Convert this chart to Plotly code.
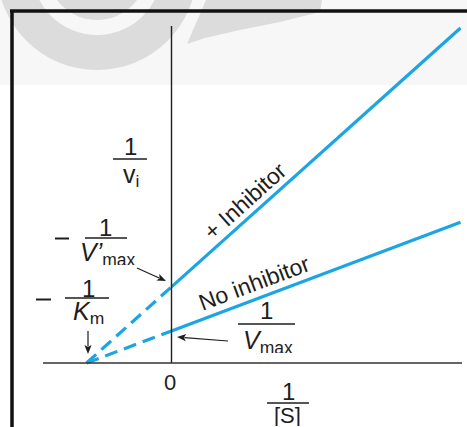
import math
import plotly.graph_objects as go

# Lineweaver-Burk plot: 1/v versus 1/[S], with and without a non-competitive inhibitor
inv_s = [-1.0, 0.0, 3.4]              # 1/[S]: x-intercept (-1/Km), origin, right end
inv_v_no_inhibitor = [0.0, 1.0, 4.4]  # 1/v without inhibitor (intercept 1/Vmax)
inv_v_inhibitor = [0.0, 2.38, 10.47]  # 1/v with inhibitor (intercept 1/V'max)

W, H = 467, 427
ORIGIN_X, ORIGIN_Y = 171.5, 363.0     # pixel position of the origin
PX_PER_X, PX_PER_Y = 85.0, 32.0

BLUE = "#1ca5e4"
INK = "#1e1e1e"
FONT = "Liberation Sans, Arial, Helvetica, sans-serif"


def P(x, y):
    """Pixel position -> paper coordinates."""
    return x / W, 1 - y / H


fig = go.Figure()

# dashed extrapolations to the x-intercept, solid measured parts to the right
for ys in (inv_v_inhibitor, inv_v_no_inhibitor):
    fig.add_trace(go.Scatter(x=inv_s[:2], y=ys[:2], mode="lines",
                             line=dict(color=BLUE, width=3.2, dash="13px,7px"),
                             hoverinfo="skip"))
    fig.add_trace(go.Scatter(x=inv_s[1:], y=ys[1:], mode="lines",
                             line=dict(color=BLUE, width=3.2),
                             hoverinfo="skip"))

shapes = []


def pline(x0, y0, x1, y1, width=1.5, color=INK):
    a, b = P(x0, y0)
    c, d = P(x1, y1)
    shapes.append(dict(type="line", xref="paper", yref="paper",
                       x0=a, y0=b, x1=c, y1=d,
                       line=dict(color=color, width=width)))


def pcircle(cx, cy, r, color):
    a, b = P(cx - r, cy - r)
    c, d = P(cx + r, cy + r)
    shapes.append(dict(type="circle", xref="paper", yref="paper", layer="below",
                       x0=a, y0=d, x1=c, y1=b, fillcolor=color,
                       line=dict(width=0)))


def ppath(points, color, layer="below"):
    s = "M " + " L ".join(f"{P(x, y)[0]:.5f},{P(x, y)[1]:.5f}" for x, y in points) + " Z"
    shapes.append(dict(type="path", xref="paper", yref="paper", layer=layer,
                       path=s, fillcolor=color, line=dict(width=0)))


def arrow(x_tail, y_tail, x_tip, y_tip, head=9.0, half=3.6):
    """Thin pointer line ending in a filled arrowhead."""
    dx, dy = x_tip - x_tail, y_tip - y_tail
    n = math.hypot(dx, dy)
    ux, uy = dx / n, dy / n
    bx, by = x_tip - ux * head, y_tip - uy * head
    pline(x_tail, y_tail, bx + ux * 1.5, by + uy * 1.5, width=1.2)
    ppath([(x_tip, y_tip),
           (bx - uy * half, by + ux * half),
           (bx + ux * 2.0, by + uy * 2.0),
           (bx + uy * half, by - ux * half)], INK, layer="above")


# faint emblem in the top band
WM = "#dcdcdc"
HAZE = "#f7f7f7"
shapes.append(dict(type="rect", xref="paper", yref="paper", layer="below",
                   x0=0, x1=1, y0=P(0, 85)[1], y1=1,
                   fillcolor=HAZE, line=dict(width=0)))
pcircle(97, -30, 100, WM)
pcircle(97, -30, 65, HAZE)
pcircle(97, -30, 50, WM)
ppath([(187, 44), (205, 38), (240, 30), (280, 22), (320, 12), (322, 0),
       (206, 0), (200, 14), (193, 30)], WM)

# page frame
pline(10, 11, W, 11, width=3.5, color="#111111")
pline(12, 10, 12, H, width=3.5, color="#111111")

# axes
shapes.append(dict(type="line", xref="x", yref="paper", x0=0, x1=0,
                   y0=P(0, 26)[1], y1=P(0, ORIGIN_Y)[1],
                   line=dict(color=INK, width=1.4)))
pline(43, ORIGIN_Y, 462, ORIGIN_Y, width=1.6, color="#333333")

# fraction bars and minus signs
pline(113, 159, 147, 159)
pline(85, 238, 127, 238)
pline(65, 298, 109, 298)
pline(238, 324, 295, 324)
pline(267, 403, 309, 403)
pline(55, 238.5, 69, 238.5, width=2.0)
pline(36, 299.5, 51, 299.5, width=2.0)

# pointers to the intercepts
arrow(137, 268, 166, 281)
arrow(88, 331, 88, 354)
arrow(228, 341, 177, 337)

annotations = []


def label(x, y, text, size=24, angle=0, box=None):
    a, b = P(x, y)
    ann = dict(xref="paper", yref="paper", x=a, y=b, text=text,
               showarrow=False, xanchor="center", yanchor="middle",
               textangle=angle, valign="middle",
               font=dict(family=FONT, size=size, color=INK))
    if box:
        ann["height"] = box
    annotations.append(ann)


# y-axis title 1/v_i
label(130, 146, "1", box=20)
label(131, 176, "v<sub>i</sub>", size=25, box=22)

# -1/V'max
label(105, 227, "1", box=20)
label(108, 254, "<i>V’</i><sub>max</sub>", size=25, box=22)

# -1/Km
label(88, 288, "1", box=20)
label(88, 313, "<i>K</i><sub>m</sub>", size=25, box=22)

# 1/Vmax
label(266, 310, "1", box=20)
label(268, 342, "<i>V</i><sub>max</sub>", size=25, box=22)

# origin and x-axis title
label(170, 382, "0", size=22)
label(288, 391, "1", box=20)
label(287, 415, "[S]", size=22, box=22)

# line labels
label(245, 201, "+ Inhibitor", size=23, angle=-41.9)
label(254, 283, "No inhibitor", size=23, angle=-20.6)

fig.update_layout(
    width=W, height=H,
    margin=dict(l=0, r=0, t=0, b=0, pad=0),
    paper_bgcolor="white", plot_bgcolor="rgba(0,0,0,0)",
    showlegend=False,
    xaxis=dict(range=[-ORIGIN_X / PX_PER_X, (W - ORIGIN_X) / PX_PER_X],
               visible=False, fixedrange=True),
    yaxis=dict(range=[(ORIGIN_Y - H) / PX_PER_Y, ORIGIN_Y / PX_PER_Y],
               visible=False, fixedrange=True),
    shapes=shapes,
    annotations=annotations,
)

fig.write_html("out.html", config={"displayModeBar": False})
